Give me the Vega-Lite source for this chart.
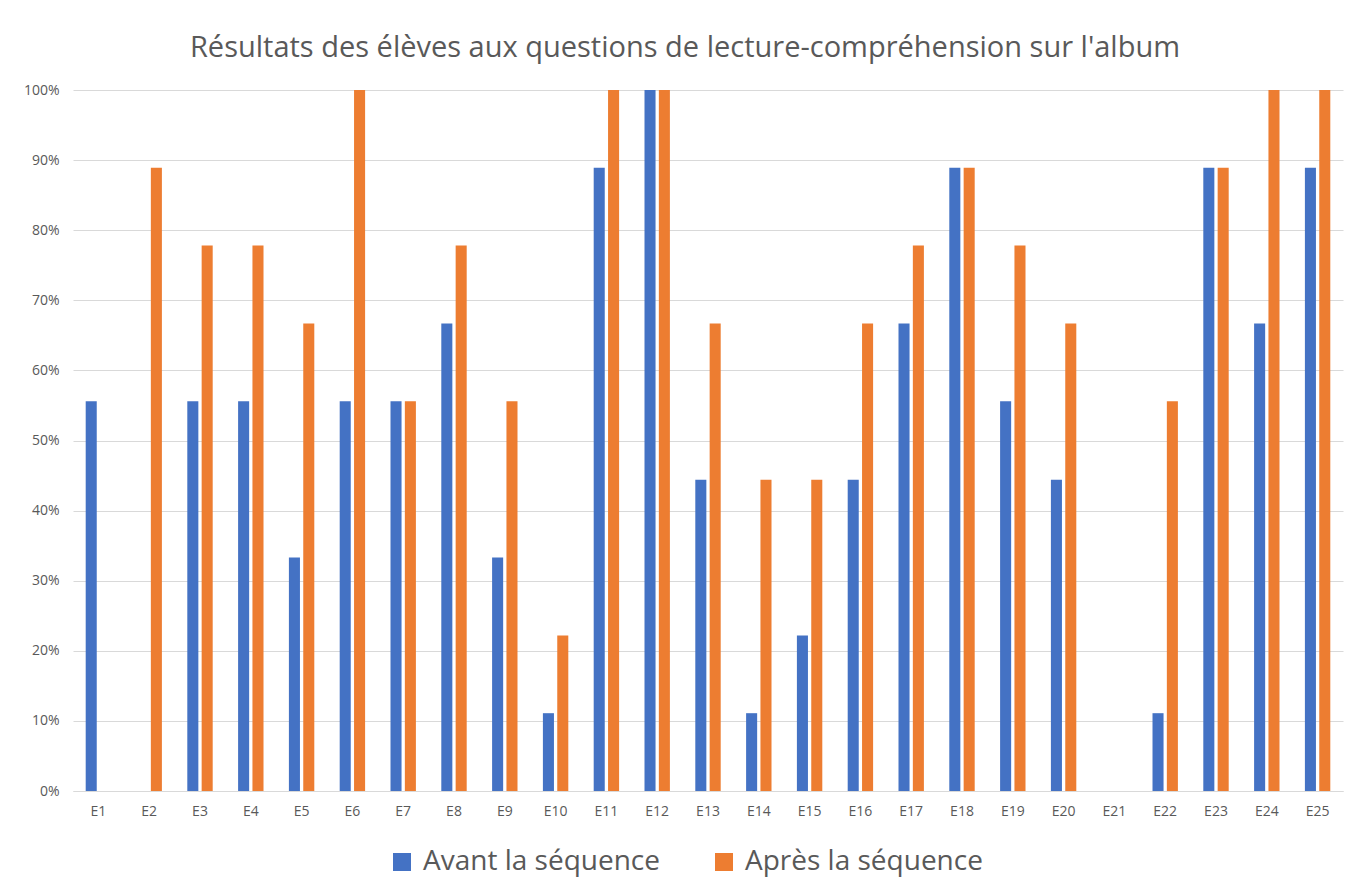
{
  "$schema": "https://vega.github.io/schema/vega-lite/v6.json",
  "width": 1270,
  "height": 701,
  "autosize": {"type": "none"},
  "padding": {"left": 73, "top": 90, "right": 20, "bottom": 98},
  "background": "white",
  "title": {
    "text": "Résultats des élèves aux questions de lecture-compréhension sur l'album",
    "font": "Open Sans",
    "fontSize": 29,
    "fontWeight": "normal",
    "color": "#595959",
    "anchor": "middle",
    "frame": "group",
    "dx": -23,
    "baseline": "alphabetic",
    "offset": -3
  },
  "data": {
    "values": [
      {"eleve": "E1", "phase": "Avant la séquence", "score": 0.556},
      {"eleve": "E1", "phase": "Après la séquence", "score": 0},
      {"eleve": "E2", "phase": "Avant la séquence", "score": 0},
      {"eleve": "E2", "phase": "Après la séquence", "score": 0.889},
      {"eleve": "E3", "phase": "Avant la séquence", "score": 0.556},
      {"eleve": "E3", "phase": "Après la séquence", "score": 0.778},
      {"eleve": "E4", "phase": "Avant la séquence", "score": 0.556},
      {"eleve": "E4", "phase": "Après la séquence", "score": 0.778},
      {"eleve": "E5", "phase": "Avant la séquence", "score": 0.333},
      {"eleve": "E5", "phase": "Après la séquence", "score": 0.667},
      {"eleve": "E6", "phase": "Avant la séquence", "score": 0.556},
      {"eleve": "E6", "phase": "Après la séquence", "score": 1.0},
      {"eleve": "E7", "phase": "Avant la séquence", "score": 0.556},
      {"eleve": "E7", "phase": "Après la séquence", "score": 0.556},
      {"eleve": "E8", "phase": "Avant la séquence", "score": 0.667},
      {"eleve": "E8", "phase": "Après la séquence", "score": 0.778},
      {"eleve": "E9", "phase": "Avant la séquence", "score": 0.333},
      {"eleve": "E9", "phase": "Après la séquence", "score": 0.556},
      {"eleve": "E10", "phase": "Avant la séquence", "score": 0.111},
      {"eleve": "E10", "phase": "Après la séquence", "score": 0.222},
      {"eleve": "E11", "phase": "Avant la séquence", "score": 0.889},
      {"eleve": "E11", "phase": "Après la séquence", "score": 1.0},
      {"eleve": "E12", "phase": "Avant la séquence", "score": 1.0},
      {"eleve": "E12", "phase": "Après la séquence", "score": 1.0},
      {"eleve": "E13", "phase": "Avant la séquence", "score": 0.444},
      {"eleve": "E13", "phase": "Après la séquence", "score": 0.667},
      {"eleve": "E14", "phase": "Avant la séquence", "score": 0.111},
      {"eleve": "E14", "phase": "Après la séquence", "score": 0.444},
      {"eleve": "E15", "phase": "Avant la séquence", "score": 0.222},
      {"eleve": "E15", "phase": "Après la séquence", "score": 0.444},
      {"eleve": "E16", "phase": "Avant la séquence", "score": 0.444},
      {"eleve": "E16", "phase": "Après la séquence", "score": 0.667},
      {"eleve": "E17", "phase": "Avant la séquence", "score": 0.667},
      {"eleve": "E17", "phase": "Après la séquence", "score": 0.778},
      {"eleve": "E18", "phase": "Avant la séquence", "score": 0.889},
      {"eleve": "E18", "phase": "Après la séquence", "score": 0.889},
      {"eleve": "E19", "phase": "Avant la séquence", "score": 0.556},
      {"eleve": "E19", "phase": "Après la séquence", "score": 0.778},
      {"eleve": "E20", "phase": "Avant la séquence", "score": 0.444},
      {"eleve": "E20", "phase": "Après la séquence", "score": 0.667},
      {"eleve": "E21", "phase": "Avant la séquence", "score": 0},
      {"eleve": "E21", "phase": "Après la séquence", "score": 0},
      {"eleve": "E22", "phase": "Avant la séquence", "score": 0.111},
      {"eleve": "E22", "phase": "Après la séquence", "score": 0.556},
      {"eleve": "E23", "phase": "Avant la séquence", "score": 0.889},
      {"eleve": "E23", "phase": "Après la séquence", "score": 0.889},
      {"eleve": "E24", "phase": "Avant la séquence", "score": 0.667},
      {"eleve": "E24", "phase": "Après la séquence", "score": 1.0},
      {"eleve": "E25", "phase": "Avant la séquence", "score": 0.889},
      {"eleve": "E25", "phase": "Après la séquence", "score": 1.0}
    ]
  },
  "mark": {"type": "bar"},
  "encoding": {
    "x": {
      "field": "eleve",
      "type": "nominal",
      "sort": null,
      "scale": {"paddingInner": 0.5, "paddingOuter": 0.25},
      "axis": {
        "title": null,
        "labelAngle": 0,
        "ticks": false,
        "domain": true,
        "domainColor": "#d9d9d9",
        "domainWidth": 1,
        "labelPadding": 13,
        "labelFont": "Open Sans",
        "labelFontSize": 14,
        "labelColor": "#595959"
      }
    },
    "xOffset": {
      "field": "phase",
      "type": "nominal",
      "sort": ["Avant la séquence", "Après la séquence"],
      "scale": {"paddingInner": 0.23, "paddingOuter": 0}
    },
    "y": {
      "field": "score",
      "type": "quantitative",
      "scale": {"domain": [0, 1]},
      "axis": {
        "title": null,
        "format": ".0%",
        "values": [0, 0.1, 0.2, 0.3, 0.4, 0.5, 0.6, 0.7, 0.8, 0.9, 1.0],
        "ticks": false,
        "domain": false,
        "grid": true,
        "gridColor": "#d9d9d9",
        "labelPadding": 14,
        "labelFont": "Open Sans",
        "labelFontSize": 14,
        "labelColor": "#595959"
      }
    },
    "color": {
      "field": "phase",
      "type": "nominal",
      "sort": ["Avant la séquence", "Après la séquence"],
      "scale": {
        "domain": ["Avant la séquence", "Après la séquence"],
        "range": ["#4472C4", "#ED7D31"]
      },
      "legend": {
        "title": null,
        "orient": "none",
        "direction": "horizontal",
        "legendX": 315,
        "legendY": 758,
        "symbolType": "square",
        "symbolSize": 324,
        "symbolStrokeWidth": 0,
        "symbolOpacity": 1,
        "labelFont": "Open Sans",
        "labelFontSize": 28,
        "labelColor": "#595959",
        "labelOffset": 7,
        "columnPadding": 50,
        "labelLimit": 400
      }
    }
  },
  "config": {
    "view": {"stroke": null}
  }
}
